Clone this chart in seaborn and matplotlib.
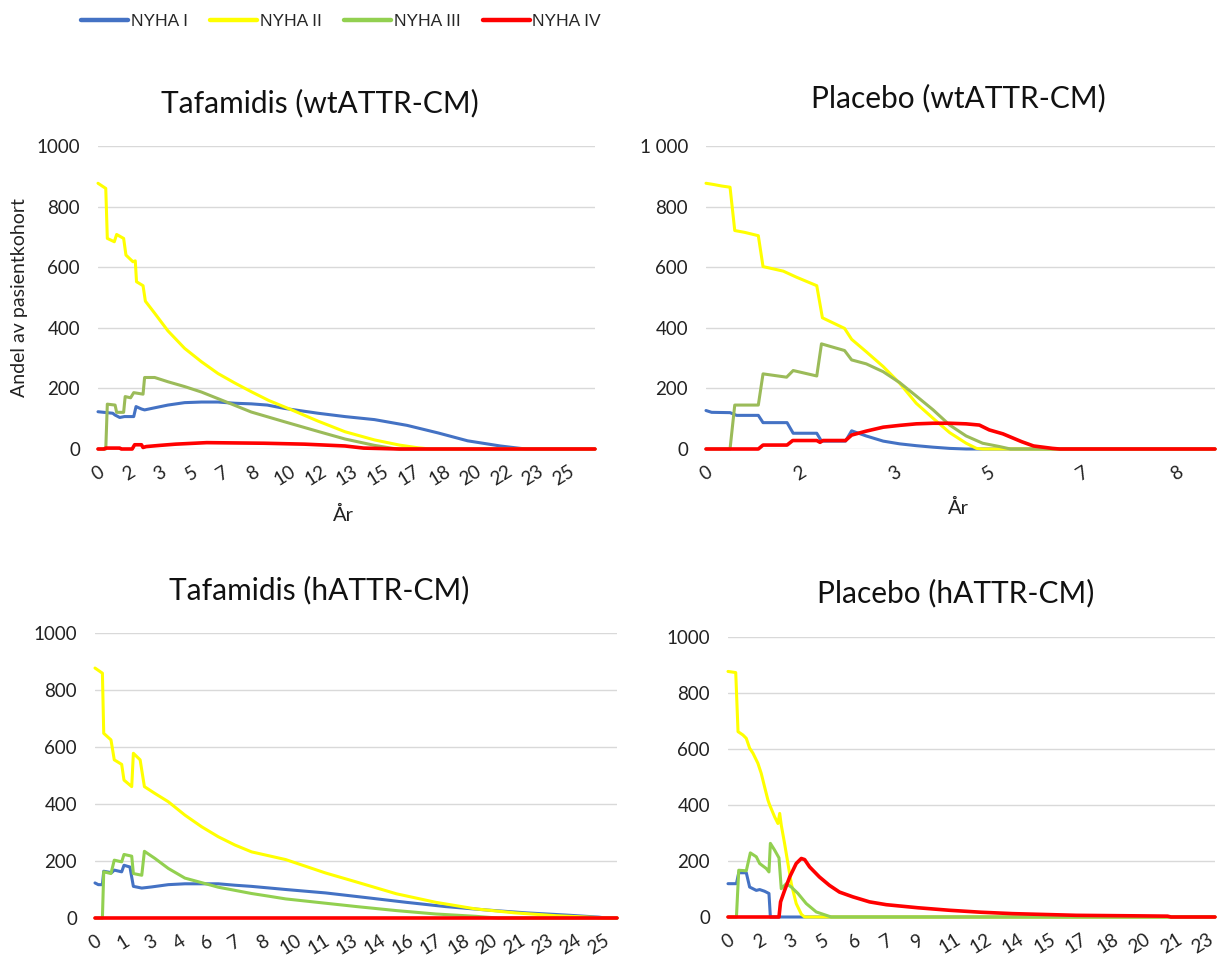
import matplotlib
matplotlib.use("Agg")
import matplotlib.pyplot as plt
import seaborn as sns
import pandas as pd
from matplotlib.lines import Line2D

sns.set_theme(style="white")
plt.rcParams['font.family'] = ['Lato', 'DejaVu Sans']

W, H = 1217, 959

SERIES = ["NYHA I", "NYHA II", "NYHA III", "NYHA IV"]
Y_TICKS = [0, 200, 400, 600, 800, 1000]
Y_LABELS_PLAIN = ["0", "200", "400", "600", "800", "1000"]
Y_LABELS_SPACE = ["0", "200", "400", "600", "800", "1 000"]

# ---------------- Tafamidis (wtATTR-CM) ; x = month ----------------
TL_TICKLABELS = ["0", "2", "3", "5", "7", "8", "10", "12", "13", "15", "17", "18", "20", "22", "23", "25"]
TL_NYHA1 = [(0, 123), (9.5, 118), (11, 112), (14, 104), (17, 107), (23, 107), (24.5, 140), (28, 132),
            (30, 129), (36.5, 136), (45, 145), (55.8, 153), (66.6, 155), (77.3, 155), (88, 151),
            (98.7, 149), (109, 145), (120, 134), (141.7, 118), (159, 107), (178, 97), (199, 78),
            (219, 53), (238, 27), (259, 10), (272, 2), (276, 0), (320, 0)]
TL_NYHA2 = [(0, 877), (5, 860), (6, 695), (10.5, 684), (12, 708), (16.5, 695), (18, 640), (22.5, 618),
            (24, 621), (24.8, 552), (29, 539), (30.5, 488), (36.5, 448), (45, 390), (55.8, 332),
            (66.6, 288), (77.3, 249), (88, 218), (98.7, 189), (110, 160), (122.4, 134), (141.7, 92),
            (159, 57), (178, 30), (194, 13), (206, 4), (214, 0), (320, 0)]
TL_NYHA3 = [(0, 0), (5, 0), (6, 148), (11, 145), (12, 121), (16.5, 121), (17.5, 173), (21, 169),
            (23, 186), (29, 181), (30, 236), (36.5, 236), (45, 222), (55.8, 206), (66.6, 188),
            (83.7, 153), (98.7, 122), (120, 90), (141.7, 58), (159, 33), (178, 12), (190, 2),
            (194, 0), (320, 0)]
TL_NYHA4 = [(0, 0), (4, 0), (5, 3), (14, 3), (15, 0), (22, 0), (23.6, 14), (28, 14), (29, 5), (31, 8),
            (40, 12), (50, 16), (70, 21), (107, 19), (133, 16), (159, 10), (171, 3), (194, 0), (320, 0)]

# ---------------- Placebo (wtATTR-CM) ----------------
TR_TICKLABELS = ["0", "2", "3", "5", "7", "8"]
TR_NYHA1 = [(0, 127), (1.2, 121), (5.1, 120), (6.5, 111), (11.1, 111), (12.1, 87), (17.2, 87),
            (18.5, 52), (23.5, 52), (24.5, 26), (29.6, 26), (30.9, 60), (34, 43), (37.6, 26),
            (41.1, 17), (44.6, 11), (48.2, 6), (51.7, 2), (55.2, 0), (108, 0)]
TR_NYHA2 = [(0, 877), (1.6, 873), (3.3, 868), (5.1, 864), (6.1, 721), (8.2, 715), (11.1, 704),
            (12.1, 602), (16.4, 587), (19.2, 567), (23.5, 539), (24.7, 433), (29.4, 398),
            (30.9, 362), (34, 321), (37.6, 272), (41.1, 217), (44.6, 151), (48.2, 101),
            (51.7, 54), (55.2, 19), (57.4, 2), (58.7, 0), (108, 0)]
TR_NYHA3 = [(0, 0), (5.1, 0), (6.1, 145), (11.1, 145), (12.1, 248), (17.1, 237), (18.5, 259),
            (23.5, 241), (24.5, 347), (29.4, 325), (30.9, 294), (34, 281), (37.6, 255),
            (41.1, 219), (44.6, 175), (48.2, 129), (51.7, 79), (55.2, 43), (58.7, 19),
            (62.3, 8), (64.6, 0), (108, 0)]
TR_NYHA4 = [(0, 0), (11.1, 0), (12.1, 13), (17.2, 13), (18.4, 28), (23.5, 28), (24.2, 22),
            (24.8, 28), (29.6, 28), (30.9, 46), (34, 59), (37.6, 72), (41.1, 78), (44.6, 83),
            (48.2, 85), (51.7, 85), (55.2, 83), (58, 79), (60.1, 63), (63, 50), (67, 24),
            (69.5, 10), (73.5, 2), (75, 0), (108, 0)]

# ---------------- Tafamidis (hATTR-CM) ----------------
BL_TICKLABELS = ["0", "1", "3", "4", "6", "7", "8", "10", "11", "13", "14", "16", "17", "18",
                 "20", "21", "23", "24", "25"]
BL_NYHA1 = [(0, 123), (2, 117), (4.5, 117), (5.3, 164), (10.1, 159), (11.7, 168), (16.2, 162),
            (17.6, 185), (21.2, 179), (23.3, 111), (28.4, 105), (34.4, 109), (44.5, 117),
            (54.6, 120), (64.8, 120), (74.9, 120), (85, 115), (95, 111), (115.8, 100),
            (140, 88), (164, 72), (189, 55), (213, 40), (238, 28), (262, 18), (287, 10),
            (306, 3), (310, 0), (317, 0)]
BL_NYHA2 = [(0, 877), (4.5, 859), (5.3, 648), (9.7, 625), (11.7, 555), (16.2, 539), (17.6, 484),
            (22.3, 461), (23.3, 578), (27.4, 555), (30, 461), (36.4, 437), (44.5, 408),
            (54.6, 361), (64.8, 320), (74.9, 285), (85, 256), (95.1, 232), (115.8, 205),
            (140, 158), (159, 126), (183, 85), (207, 55), (231, 32), (255, 18), (280, 8),
            (304, 2), (306, 0), (317, 0)]
BL_NYHA3 = [(0, 0), (4.5, 0), (5.3, 162), (9.7, 156), (11.7, 203), (16.2, 197), (17.6, 223),
            (22.3, 217), (23.3, 156), (28.4, 150), (30, 234), (36.4, 209), (44.5, 174),
            (54.6, 140), (64.8, 124), (74.9, 108), (85, 97), (95, 86), (105, 77), (115.8, 67),
            (135, 55), (159, 40), (183, 26), (207, 14), (231, 6), (240, 2), (245, 0), (317, 0)]
BL_NYHA4 = [(0, 0), (317, 0)]

# ---------------- Placebo (hATTR-CM) ----------------
BR_TICKLABELS = ["0", "2", "3", "5", "6", "7", "9", "11", "12", "14", "15", "17", "18", "20",
                 "21", "23"]
BR_NYHA1 = [(0, 119), (4.8, 119), (6.1, 158), (10.4, 158), (12.3, 107), (16.1, 95), (18, 98),
            (20.8, 92), (23.3, 84), (24.1, 0), (277, 0)]
BR_NYHA2 = [(0, 877), (4.4, 873), (5.7, 662), (8.5, 650), (10.4, 638), (12.3, 603), (14.2, 585),
            (17, 549), (18.9, 513), (20.8, 465), (22.7, 418), (23.7, 400), (26.5, 358),
            (28.4, 334), (29.4, 370), (30.3, 328), (32.2, 262), (34.1, 191), (36, 119),
            (38.8, 48), (41.7, 10), (43.6, 0), (277, 0)]
BR_NYHA3 = [(0, 0), (4.8, 0), (6.1, 167), (10.4, 165), (12.7, 229), (16.1, 215), (18, 191),
            (21.8, 173), (23.3, 161), (24.1, 263), (26.5, 239), (29, 211), (30.3, 101),
            (33.2, 119), (36, 107), (39.8, 84), (44.5, 48), (50.2, 18), (55.9, 6), (58.7, 0),
            (277, 0)]
BR_NYHA4 = [(0, 0), (29, 0), (29.9, 54), (32.2, 95), (35.1, 143), (38.8, 191), (41.7, 209),
            (43.6, 205), (46.4, 179), (52, 143), (57.7, 113), (63.4, 89), (71, 72), (80.5, 54),
            (90, 44), (108, 33), (126, 24), (144, 17), (162, 12), (180, 9), (198, 6), (234, 4),
            (250, 3), (252, 0), (277, 0)]

BLUE, YELLOW, RED = "#4472C4", "#FFFF00", "#FF0000"
GREEN_TOP, GREEN_BOTTOM = "#9BBB59", "#92D050"

fig = plt.figure(figsize=(W / 100, H / 100), dpi=100)


def px_axes(left, top, right, bottom):
    return fig.add_axes([left / W, 1 - bottom / H, (right - left) / W, (bottom - top) / H])


def panel(ax, data, green, ticklabels, step, xmax, ylabels):
    colors = [BLUE, YELLOW, green, RED]
    widths = [2.2, 2.2, 2.2, 2.6]
    for i, (name, pts) in enumerate(zip(SERIES, data)):
        df = pd.DataFrame(pts, columns=["month", "value"])
        sns.lineplot(data=df, x="month", y="value", ax=ax, color=colors[i], lw=widths[i],
                     estimator=None, sort=False, clip_on=False, zorder=3 + i)
    ax.set_xlim(0, xmax)
    ax.set_ylim(0, 1000)
    ax.set_yticks(Y_TICKS)
    ax.set_yticklabels(ylabels)
    ax.set_xticks([i * step for i in range(len(ticklabels))])
    ax.set_xticklabels(ticklabels, rotation=32, ha="center")
    ax.set_xlabel("")
    ax.set_ylabel("")
    ax.grid(axis="y", color="#D9D9D9", lw=1.0)
    ax.grid(axis="x", visible=False)
    ax.set_axisbelow(True)
    for s in ax.spines.values():
        s.set_visible(False)
    ax.tick_params(axis="both", length=0, labelsize=13.5, colors="#222222")
    ax.tick_params(axis="y", pad=13)
    ax.tick_params(axis="x", pad=10)
    ax.set_facecolor("none")


ax_tl = px_axes(98, 146, 595, 449)
panel(ax_tl, [TL_NYHA1, TL_NYHA2, TL_NYHA3, TL_NYHA4], GREEN_TOP, TL_TICKLABELS, 20, 320, Y_LABELS_PLAIN)
ax_tr = px_axes(706, 146, 1215, 449)
panel(ax_tr, [TR_NYHA1, TR_NYHA2, TR_NYHA3, TR_NYHA4], GREEN_TOP, TR_TICKLABELS, 20, 108, Y_LABELS_SPACE)
ax_bl = px_axes(95, 633, 617, 918)
panel(ax_bl, [BL_NYHA1, BL_NYHA2, BL_NYHA3, BL_NYHA4], GREEN_BOTTOM, BL_TICKLABELS, 17, 317, Y_LABELS_PLAIN)
ax_br = px_axes(728, 637, 1215, 917)
panel(ax_br, [BR_NYHA1, BR_NYHA2, BR_NYHA3, BR_NYHA4], GREEN_BOTTOM, BR_TICKLABELS, 18, 277, Y_LABELS_PLAIN)

# titles
for txt, x, y in [("Tafamidis (wtATTR-CM)", 320, 103), ("Placebo (wtATTR-CM)", 958, 98),
                  ("Tafamidis (hATTR-CM)", 319, 590), ("Placebo (hATTR-CM)", 956, 593)]:
    fig.text(x / W, 1 - y / H, txt, ha="center", va="center", fontsize=21.5, color="#111111")

# axis labels
fig.text(20 / W, 1 - 298 / H, "Andel av pasientkohort", rotation=90, ha="center", va="center",
         fontsize=14, color="#222222")
fig.text(343 / W, 1 - 515 / H, "År", ha="center", va="center", fontsize=14.5, color="#222222")
fig.text(958 / W, 1 - 508 / H, "År", ha="center", va="center", fontsize=14.5, color="#222222")

# legend
handles = [Line2D([], [], color=c, lw=3.2) for c in [BLUE, YELLOW, GREEN_BOTTOM, RED]]
fig.legend(handles, SERIES, loc="center", bbox_to_anchor=(341 / W, 1 - 21 / H), ncol=4,
           frameon=False, handlelength=2.7, handletextpad=0.15, columnspacing=1.3,
           prop={"family": "Liberation Sans", "size": 12.5})

fig.savefig("out.png", dpi=100, facecolor="white")
